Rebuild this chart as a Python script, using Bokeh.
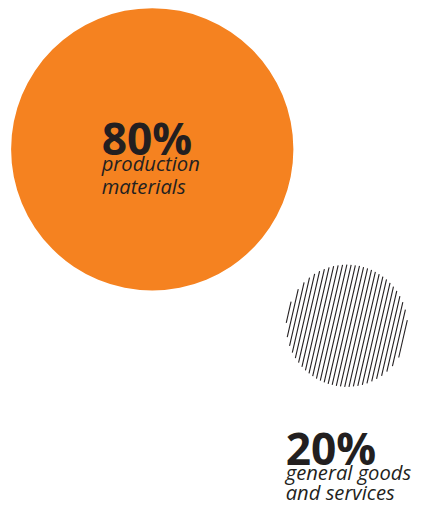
import numpy as np
from bokeh.plotting import figure
from bokeh.models import Range1d
from bokeh.core.properties import value
from bokeh.embed import file_html
from bokeh.resources import INLINE

# data
shares = [80, 20]
pct_labels = ["80%", "20%"]
desc_line1 = ["production", "general goods"]
desc_line2 = ["materials", "and services"]

# layout: the figure maps the reference frame (438 x 523) into 422 x 507 px
REF_W, REF_H = 438, 523
W, H = 422, 507
S = W / REF_W
p = figure(width=W, height=H, output_backend="svg", toolbar_location=None,
           x_range=Range1d(0, REF_W), y_range=Range1d(REF_H, 0),
           min_border=0)
p.axis.visible = False
p.grid.visible = False
p.outline_line_color = None
p.background_fill_color = "white"

centers_x = [157.5, 359.5]
centers_y = [153.5, 335.5]
radii = [146.5, 63.0]

# big orange circle
p.circle(x=[centers_x[0]], y=[centers_y[0]], radius=[radii[0]],
         fill_color="#F58220", line_color=None)

# hatched small circle: steep diagonal lines clipped to the circle
cx, cy, r = centers_x[1], centers_y[1], radii[1]
theta = np.deg2rad(13)
ux, uy = np.sin(theta), -np.cos(theta)
nx, ny = np.cos(theta), np.sin(theta)
spacing = 4.35
ds = np.arange(-r + 1.0, r, spacing)
x0s, y0s, x1s, y1s = [], [], [], []
for d in ds:
    h = np.sqrt(max(r * r - d * d, 0))
    bx, by = cx + d * nx, cy + d * ny
    x0s.append(bx - h * ux); y0s.append(by - h * uy)
    x1s.append(bx + h * ux); y1s.append(by + h * uy)
p.segment(x0=x0s, y0=y0s, x1=x1s, y1=y1s, line_color="#231f20", line_width=1.1)

txt_color = "#231f20"
label_x = [105, 296]
pct_base = [142, 462]
line1_base = [168, 486]
line2_base = [191, 507]

big = f"{46 * S:.1f}px"
small = f"{21 * S:.1f}px"
p.text(x=label_x, y=pct_base, text=pct_labels, text_font=value("Open Sans"),
       text_font_size=big, text_font_style="bold", text_color=txt_color,
       text_baseline="alphabetic", text_align="left")
p.text(x=label_x, y=line1_base, text=desc_line1, text_font=value("Open Sans"),
       text_font_size=small, text_font_style="italic", text_color=txt_color,
       text_baseline="alphabetic", text_align="left")
p.text(x=label_x, y=line2_base, text=desc_line2, text_font=value("Open Sans"),
       text_font_size=small, text_font_style="italic", text_color=txt_color,
       text_baseline="alphabetic", text_align="left")

open("out.html", "w").write(file_html(p, INLINE))
